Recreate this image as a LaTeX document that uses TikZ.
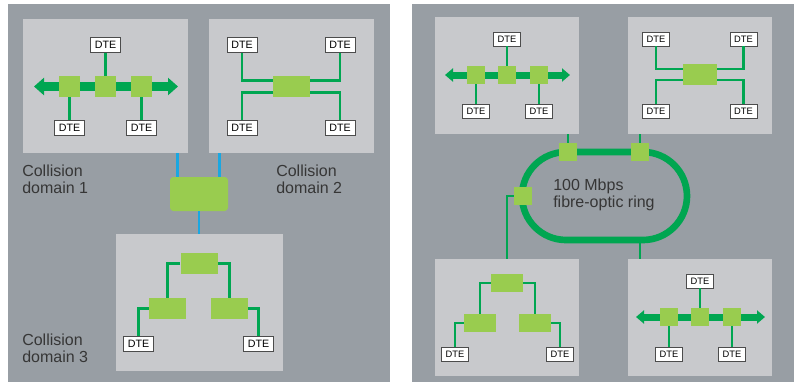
\documentclass[tikz,border=0pt]{standalone}
\usepackage{fontspec}
\setmainfont{Liberation Sans}
\usetikzlibrary{arrows.meta,positioning}

\definecolor{panelgray}{HTML}{989EA4}
\definecolor{boxgray}{HTML}{C8C9CC}
\definecolor{linkgreen}{HTML}{00A651}
\definecolor{devgreen}{HTML}{99CC4F}
\definecolor{uplinkblue}{HTML}{1AA7E1}
\definecolor{textgray}{HTML}{363636}

\begin{document}
\begin{tikzpicture}[x=0.75pt,y=-0.75pt,
    panel/.style={fill=panelgray},
    lan/.style={fill=boxgray,inner sep=0pt,minimum width=123.75pt,minimum height=100.5pt},
    lanr/.style={lan,minimum width=108pt,minimum height=87.75pt},
    dte/.style={draw=black!70,fill=white,line width=0.6pt,inner sep=0pt,
        minimum width=22.5pt,minimum height=11.25pt,font=\fontsize{8}{8}\selectfont},
    dter/.style={dte,minimum width=20.25pt,minimum height=10.5pt,font=\fontsize{7}{7}\selectfont},
    tap/.style={fill=devgreen,inner sep=0pt,minimum size=15.75pt},
    tapr/.style={tap,minimum size=13.5pt},
    hub/.style={fill=devgreen,inner sep=0pt,minimum width=27.75pt,minimum height=15.75pt},
    hubr/.style={hub,minimum width=24pt,minimum height=13.5pt},
    bridge/.style={fill=devgreen,rounded corners=2.5pt,inner sep=0pt,minimum width=43.5pt,minimum height=25.5pt},
    bus/.style={draw=linkgreen,line width=6.75pt,
        {Triangle[length=7.5pt,width=12.75pt]}-{Triangle[length=7.5pt,width=12.75pt]}},
    busr/.style={draw=linkgreen,line width=5.25pt,
        {Triangle[length=6pt,width=9.75pt]}-{Triangle[length=6pt,width=9.75pt]}},
    link/.style={draw=linkgreen,line width=1.8pt},
    linkr/.style={draw=linkgreen,line width=1.6pt},
    uplink/.style={draw=uplinkblue,line width=2.2pt},
    ring/.style={draw=linkgreen,line width=5pt,rounded corners=33pt},
    label/.style={anchor=north west,inner sep=0pt,align=left,text=textgray,
        font=\fontsize{12}{12.75}\selectfont}]

  \useasboundingbox (0,0) rectangle (797,382);
  \fill[panel] (8,4) rectangle (390,382);
  \fill[panel] (412,4) rectangle (794,382);

  % left: three collision domains joined by a bridge
  \node[lan] (cd1) at (105.5,86) {};
  \node[lan] (cd2) at (291.5,86) {};
  \node[lan,minimum width=125.25pt,minimum height=102.75pt] (cd3) at (199,302.5) {};

  % domain 1, bus
  \coordinate (w1) at (34,86.5);
  \coordinate (e1) at (178,86.5);
  \draw[bus] (w1) -- (e1);
  \node[tap] (t11) at (69.5,86.5) {};
  \node[tap] (t12) at (105.5,86.5) {};
  \node[tap] (t13) at (141.5,86.5) {};
  \node[dte] (d11) at (69.5,128) {DTE};
  \node[dte] (d12) at (105.5,45) {DTE};
  \node[dte] (d13) at (141.5,128) {DTE};
  \draw[link] (t11) -- (d11);
  \draw[link] (t12) -- (d12);
  \draw[link] (t13) -- (d13);

  % domain 2, star
  \node[hub] (h2) at (291.5,86.5) {};
  \node[dte] (d21) at (242,45) {DTE};
  \node[dte] (d22) at (340,45) {DTE};
  \node[dte] (d23) at (242,128) {DTE};
  \node[dte] (d24) at (340,128) {DTE};
  \draw[link] (d21) |- ([yshift=4.5pt]h2.west);
  \draw[link] (d23) |- ([yshift=-4.5pt]h2.west);
  \draw[link] (d22) |- ([yshift=4.5pt]h2.east);
  \draw[link] (d24) |- ([yshift=-4.5pt]h2.east);

  % bridge
  \node[bridge] (br) at (199,194) {};
  \coordinate (u1) at ([xshift=6pt]br.north west);
  \coordinate (u2) at ([xshift=-6.75pt]br.north east);
  \draw[uplink] (u1) -- (u1 |- cd1.south);
  \draw[uplink] (u2) -- (u2 |- cd2.south);
  \draw[uplink] (br) -- (cd3);

  % domain 3, tree
  \node[hub] (h31) at (199,263.5) {};
  \node[hub] (h32) at (167.5,308.5) {};
  \node[hub] (h33) at (229.5,308.5) {};
  \node[dte] (d31) at (138.5,344) {DTE};
  \node[dte] (d32) at (258.5,344) {DTE};
  \draw[link] (h31) -| (h32);
  \draw[link] (h31) -| (h33);
  \draw[link] (h32) -| (d31);
  \draw[link] (h33) -| (d32);

  \node[label] (l1) at (22,165) {Collision\\domain 1};
  \node[label] (l2) at (276,165) {Collision\\domain 2};
  \node[label] (l3) at (22,334) {Collision\\domain 3};

  % right: four LANs on a fibre ring
  \node[lanr] (ba) at (507,75.5) {};
  \node[lanr] (bb) at (700,75.5) {};
  \node[lanr] (bc) at (507,317.5) {};
  \node[lanr] (bd) at (700,317.5) {};

  % LAN a, bus
  \coordinate (wa) at (445,75);
  \coordinate (ea) at (570,75);
  \draw[busr] (wa) -- (ea);
  \node[tapr] (ta1) at (476,75) {};
  \node[tapr] (ta2) at (507,75) {};
  \node[tapr] (ta3) at (539,75) {};
  \node[dter] (da1) at (476,111) {DTE};
  \node[dter] (da2) at (507,39) {DTE};
  \node[dter] (da3) at (539,111) {DTE};
  \draw[linkr] (ta1) -- (da1);
  \draw[linkr] (ta2) -- (da2);
  \draw[linkr] (ta3) -- (da3);

  % LAN b, star
  \node[hub,minimum width=25.5pt] (hb) at (700,74.5) {};
  \node[dter] (db1) at (656,39) {DTE};
  \node[dter] (db2) at (743.5,39) {DTE};
  \node[dter] (db3) at (656,111) {DTE};
  \node[dter] (db4) at (743.5,111) {DTE};
  \draw[linkr] (db1) |- ([yshift=4pt]hb.west);
  \draw[linkr] (db3) |- ([yshift=-4pt]hb.west);
  \draw[linkr] (db2) |- ([yshift=4pt]hb.east);
  \draw[linkr] (db4) |- ([yshift=-4pt]hb.east);

  % ring
  \draw[ring] (522,152) rectangle (687,240);
  \node[tapr] (ra) at (568,152) {};
  \node[tapr] (rb) at (640,152) {};
  \node[tapr] (rc) at (523,196) {};
  \coordinate (rs) at (640,240);
  \draw[linkr] (ra) -- (ra |- ba.south);
  \draw[linkr] (rb) -- (rb |- bb.south);
  \draw[linkr] (rc) -| (bc);
  \draw[linkr] (rs) -- (rs |- bd.north);
  \node[label,anchor=west] (rt) at (553,195) {100 Mbps\\fibre-optic ring};

  % LAN c, tree
  \node[hubr] (hc1) at (507,283) {};
  \node[hubr] (hc2) at (480,323) {};
  \node[hubr] (hc3) at (535,323) {};
  \node[dter] (dc1) at (455,354) {DTE};
  \node[dter] (dc2) at (560,354) {DTE};
  \draw[linkr] (hc1) -| (hc2);
  \draw[linkr] (hc1) -| (hc3);
  \draw[linkr] (hc2) -| (dc1);
  \draw[linkr] (hc3) -| (dc2);

  % LAN d, bus
  \coordinate (wd) at (636,317);
  \coordinate (ed) at (765,317);
  \draw[busr] (wd) -- (ed);
  \node[tapr] (td1) at (669,317) {};
  \node[tapr] (td2) at (700,317) {};
  \node[tapr] (td3) at (732,317) {};
  \node[dter] (dd1) at (669,354) {DTE};
  \node[dter] (dd2) at (700,281) {DTE};
  \node[dter] (dd3) at (732,354) {DTE};
  \draw[linkr] (td1) -- (dd1);
  \draw[linkr] (td2) -- (dd2);
  \draw[linkr] (td3) -- (dd3);
\end{tikzpicture}
\end{document}
